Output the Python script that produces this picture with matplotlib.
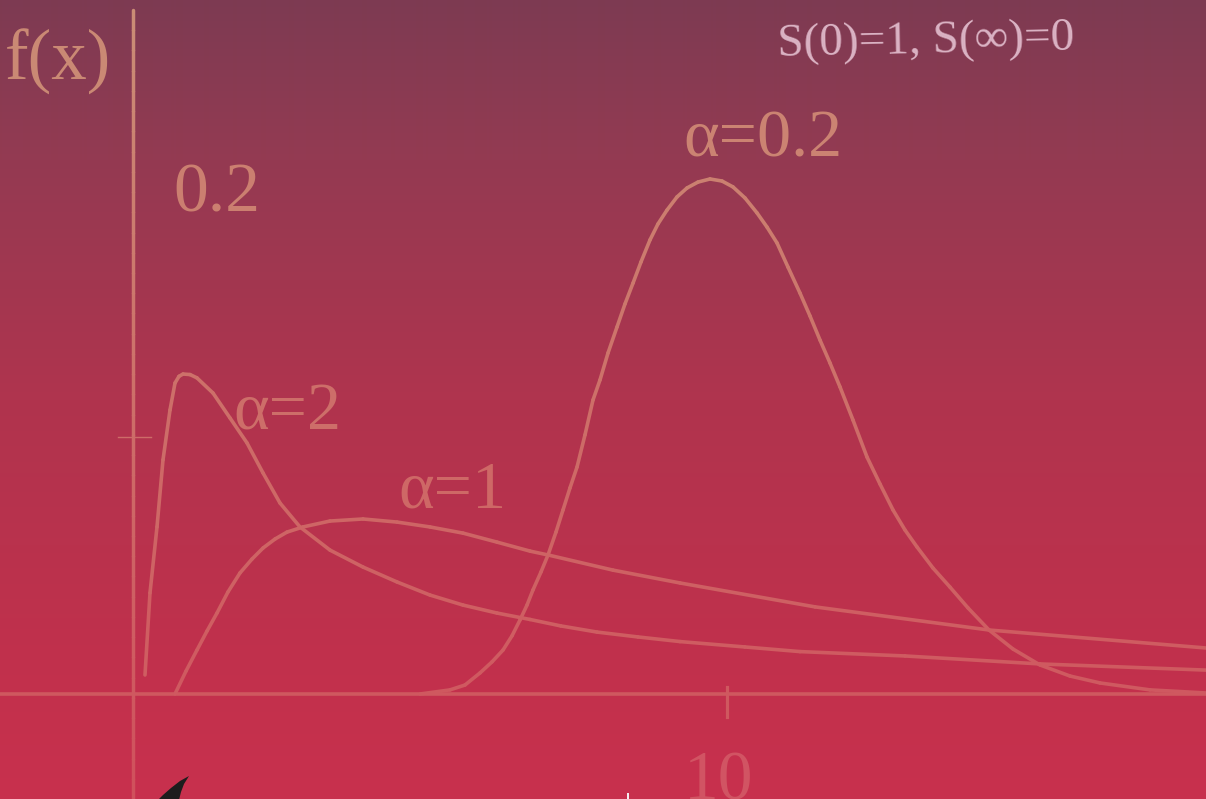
import numpy as np
import matplotlib
matplotlib.use("Agg")
import matplotlib.pyplot as plt
from matplotlib.collections import LineCollection
from matplotlib.patches import Polygon

# ---------------- data ----------------
x_a2 = [0.202, 0.286, 0.404, 0.505, 0.623, 0.707, 0.774, 0.842, 0.96, 1.077, 1.347, 1.633, 1.919,
        2.189, 2.475, 2.811, 3.316, 3.872, 4.444, 5.0, 5.556, 6.128, 6.684, 7.2, 7.811, 8.5,
        9.209, 10.3, 11.229, 12.997, 15.269, 18.064]
y_a2 = [0.0074, 0.0393, 0.0650, 0.0911, 0.1105, 0.1210, 0.1236, 0.1245, 0.1243, 0.1230, 0.1171,
        0.1074, 0.0977, 0.0860, 0.0743, 0.0650, 0.0560, 0.0494, 0.0436, 0.0385, 0.0346,
        0.0315, 0.0290, 0.0265, 0.0241, 0.0222, 0.0204, 0.0183, 0.0165, 0.0148, 0.0117, 0.0093]

x_a1 = [0.707, 0.892, 1.077, 1.246, 1.414, 1.599, 1.801, 2.003, 2.189, 2.391, 2.593, 2.862,
        3.316, 3.872, 4.444, 5.0, 5.556, 6.128, 6.684, 6.987, 8.081, 9.209, 11.481, 14.411, 18.064]
y_a1 = [0.0, 0.0089, 0.0171, 0.0245, 0.0315, 0.0397, 0.0471, 0.0525, 0.0568, 0.0603, 0.0630,
        0.0650, 0.0673, 0.0681, 0.0669, 0.0650, 0.0626, 0.0591, 0.0556, 0.0541, 0.0482,
        0.0432, 0.0339, 0.0249, 0.0179]

x_a02 = [4.832, 5.337, 5.589, 5.842, 6.044, 6.229, 6.380, 6.515, 6.633, 6.734, 6.869, 6.987,
         7.121, 7.239, 7.357, 7.475, 7.609, 7.744, 7.862, 7.997, 8.148, 8.283, 8.418, 8.552,
         8.704, 8.838, 8.990, 9.158, 9.327, 9.512, 9.714, 9.916, 10.101, 10.303, 10.505,
         10.673, 10.842, 11.027, 11.229, 11.397, 11.566, 11.734, 11.902, 12.121, 12.357,
         12.576, 12.795, 12.997, 13.199, 13.468, 13.754, 14.057, 14.411, 14.815, 15.269,
         15.774, 16.279, 17.121, 18.064]
y_a02 = [0.0, 0.0016, 0.0035, 0.0082, 0.0125, 0.0171, 0.0226, 0.0288, 0.0346, 0.0405, 0.0475,
         0.0541, 0.0630, 0.0716, 0.0802, 0.0883, 0.1008, 0.1144, 0.1222, 0.1327, 0.1428,
         0.1518, 0.1599, 0.1681, 0.1767, 0.1829, 0.1883, 0.1934, 0.1969, 0.1992, 0.2004,
         0.1996, 0.1973, 0.1930, 0.1872, 0.1817, 0.1755, 0.1661, 0.1560, 0.1471, 0.1377,
         0.1288, 0.1195, 0.1066, 0.0922, 0.0817, 0.0716, 0.0638, 0.0572, 0.0490, 0.0416,
         0.0335, 0.0249, 0.0175, 0.0113, 0.0070, 0.0043, 0.0016, 0.0004]

series_labels = ["α=2", "α=1", "α=0.2"]
label_pos_x = [1.684, 4.461, 9.259]
label_pos_y = [0.1031, 0.0724, 0.2093]

xtick_values = [10]
xtick_labels = ["10"]
ytick_values = [0.1]
ylabel_text = "f(x)"
yvalue_label = "0.2"
note_text = "S(0)=1, S(∞)=0"

# ---------------- geometry of the canvas ----------------
W, H = 1206, 799
PX_PER_X = 59.4
PX_PER_Y = 2570.0
X0_PX, Y0_PX = 133, 694
XMIN, XMAX = -X0_PX / PX_PER_X, (W - X0_PX) / PX_PER_X
YMIN, YMAX = -(H - Y0_PX) / PX_PER_Y, Y0_PX / PX_PER_Y

fig = plt.figure(figsize=(W / 100, H / 100), dpi=100)
ax = fig.add_axes([0, 0, 1, 1])
ax.set_xlim(XMIN, XMAX)
ax.set_ylim(YMIN, YMAX)
ax.axis("off")

# background gradient (by pixel row)
bg_stops_px = [0, 160, 400, 690, 799]
bg_stops_rgb = np.array([[125, 59, 82], [148, 58, 82], [176, 52, 78], [195, 48, 76], [200, 49, 78]]) / 255
rows = np.arange(H)
grad = np.stack([np.interp(rows, bg_stops_px, bg_stops_rgb[:, k]) for k in range(3)], axis=1)
img = np.repeat(grad[:, None, :], 2, axis=1)
ax.imshow(img, extent=[XMIN, XMAX, YMIN, YMAX], aspect="auto", zorder=0, interpolation="bilinear")

# foreground colour depends on height
fg_top = np.array([202, 142, 118]) / 255
fg_bot = np.array([208, 80, 92]) / 255


def fg_color(y):
    py = Y0_PX - y * PX_PER_Y
    t = np.clip(py / H, 0, 1)
    return tuple(fg_top * (1 - t) + fg_bot * t)


def grad_line(xs, ys, lw, z=3):
    xs = np.asarray(xs, float)
    ys = np.asarray(ys, float)
    pts = np.column_stack([xs, ys])
    segs = np.stack([pts[:-1], pts[1:]], axis=1)
    cols = [fg_color((a[1] + b[1]) / 2) for a, b in segs]
    lc = LineCollection(segs, colors=cols, linewidths=lw, capstyle="round", joinstyle="round", zorder=z)
    ax.add_collection(lc)


# axes
ax.plot([XMIN, XMAX], [0, 0], color=fg_color(0), lw=2.6, zorder=2, solid_capstyle="butt")
vy = np.linspace(YMIN, (Y0_PX - 10) / PX_PER_Y, 40)
grad_line(np.zeros_like(vy), vy, 2.5, z=2)

# ticks
for xv in xtick_values:
    ax.plot([xv, xv], [7 / PX_PER_Y, -23 / PX_PER_Y], color=fg_color(0), lw=2.3, zorder=2)
for yv in ytick_values:
    ax.plot([-15 / PX_PER_X, 18 / PX_PER_X], [yv, yv], color=fg_color(yv), lw=1.0, zorder=2)

# curves
grad_line(x_a2, y_a2, 2.6)
grad_line(x_a1, y_a1, 2.6)
grad_line(x_a02, y_a02, 2.6)

serif = ["Liberation Serif", "DejaVu Serif"]

for lab, lx, ly in zip(series_labels, label_pos_x, label_pos_y):
    ax.text(lx, ly, lab, family=serif, fontsize=49, color=fg_color(ly + 0.008),
            ha="left", va="baseline", zorder=4)

ax.text(-128 / PX_PER_X, (Y0_PX - 80) / PX_PER_Y, ylabel_text, family=serif, fontsize=51,
        color=fg_color(0.245), ha="left", va="baseline", zorder=4)
ax.text(40 / PX_PER_X, (Y0_PX - 211) / PX_PER_Y, yvalue_label, family=serif, fontsize=50,
        color=fg_color(0.197), ha="left", va="baseline", zorder=4)
for xv, xl in zip(xtick_values, xtick_labels):
    ax.text(xv - 8 / PX_PER_X, (Y0_PX - 800) / PX_PER_Y, xl, family=serif, fontsize=50,
            color=(0.82, 0.33, 0.39), ha="center", va="baseline", zorder=4)

ax.text((926 - X0_PX) / PX_PER_X, (Y0_PX - 42) / PX_PER_Y, note_text, family=serif,
        fontsize=34, color=(0.86, 0.70, 0.77), ha="center", va="center", rotation=1.2, zorder=4)

# decorative black spike at bottom-left and a small white mark
spike_px = [(189, 776), (180, 781), (171, 788), (163, 795), (158, 800),
            (179, 800), (181, 792), (184, 784)]
spike = Polygon([(x / W, 1 - y / H) for x, y in spike_px], closed=True,
                transform=fig.transFigure, facecolor="#1d1d1d", edgecolor="none", zorder=5)
fig.patches.append(spike)
mark_px = [(627, 793), (629, 793), (629, 800), (627, 800)]
mark = Polygon([(x / W, 1 - y / H) for x, y in mark_px], closed=True,
               transform=fig.transFigure, facecolor="#f4eef0", edgecolor="none", zorder=5)
fig.patches.append(mark)

fig.savefig("out.png", dpi=100)
